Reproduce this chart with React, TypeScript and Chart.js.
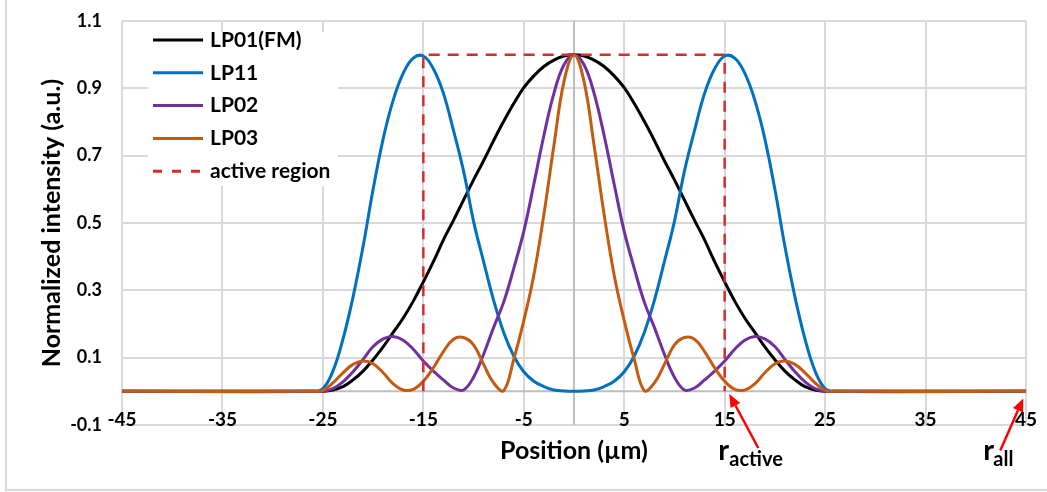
import React, { useEffect, useRef } from 'react';
import { Chart, registerables } from 'chart.js';

Chart.register(...registerables);

// ---------- data ----------
const positions = [
  -45, -26, -25, -24, -23, -22, -21, -20, -19, -18, -17, -16, -15, -14, -13, -12, -11, -10, -9, -8, -7, -6, -5, -4, -3, -2, -1,
  0,
  1, 2, 3, 4, 5, 6, 7, 8, 9, 10, 11, 12, 13, 14, 15, 16, 17, 18, 19, 20, 21, 22, 23, 24, 25, 26, 45,
];

const lp01 = [
  0, 0, 0, 0.004, 0.014, 0.034, 0.06, 0.094, 0.132, 0.175, 0.218, 0.268, 0.325, 0.385, 0.45, 0.508, 0.568, 0.628, 0.685, 0.745, 0.802, 0.855, 0.902, 0.937, 0.965, 0.984, 0.996,
  1,
  0.996, 0.984, 0.965, 0.937, 0.902, 0.855, 0.802, 0.745, 0.685, 0.628, 0.568, 0.508, 0.45, 0.385, 0.325, 0.268, 0.218, 0.175, 0.132, 0.094, 0.06, 0.034, 0.014, 0.004, 0, 0, 0,
];

const lp11 = [
  0, 0, 0.008, 0.06, 0.155, 0.28, 0.43, 0.6, 0.75, 0.865, 0.945, 0.99, 0.996, 0.958, 0.885, 0.775, 0.655, 0.505, 0.385, 0.27, 0.175, 0.105, 0.058, 0.03, 0.014, 0.004, 0.001,
  0,
  0.001, 0.004, 0.014, 0.03, 0.058, 0.105, 0.175, 0.27, 0.385, 0.505, 0.655, 0.775, 0.885, 0.958, 0.996, 0.99, 0.945, 0.865, 0.75, 0.6, 0.43, 0.28, 0.155, 0.06, 0.008, 0, 0,
];

const lp02 = [
  0, 0, 0, 0.008, 0.028, 0.058, 0.095, 0.133, 0.156, 0.163, 0.152, 0.125, 0.09, 0.06, 0.034, 0.01, 0.004, 0.042, 0.11, 0.19, 0.265, 0.365, 0.475, 0.615, 0.76, 0.885, 0.97,
  1,
  0.97, 0.885, 0.76, 0.615, 0.475, 0.365, 0.265, 0.19, 0.11, 0.042, 0.004, 0.01, 0.034, 0.06, 0.09, 0.125, 0.152, 0.163, 0.156, 0.133, 0.095, 0.058, 0.028, 0.008, 0, 0, 0,
];

const lp03 = [
  0, 0, 0.003, 0.025, 0.055, 0.08, 0.09, 0.082, 0.055, 0.022, 0.004, 0.006, 0.03, 0.07, 0.118, 0.155, 0.16, 0.138, 0.08, 0.025, 0.002, 0.095, 0.21, 0.345, 0.525, 0.73, 0.92,
  1,
  0.92, 0.73, 0.525, 0.345, 0.21, 0.095, 0.002, 0.025, 0.08, 0.138, 0.16, 0.155, 0.118, 0.07, 0.03, 0.006, 0.004, 0.022, 0.055, 0.082, 0.09, 0.08, 0.055, 0.025, 0.003, 0, 0,
];

const activeX = [-15, -15, 15, 15];
const activeY = [0, 1, 1, 0];

const xTickValues = [-45, -35, -25, -15, -5, 5, 15, 25, 35, 45];
const yTickValues = [-0.1, 0.1, 0.3, 0.5, 0.7, 0.9, 1.1];

const seriesLabels = ['LP01(FM)', 'LP11', 'LP02', 'LP03', 'active region'];

const annotationMain = ['r', 'r'];
const annotationSub = ['active', 'all'];
const annotationTipX = [15.46, 44.73];
const annotationTipY = [-0.008, -0.021];

// ---------- styles ----------
const FONT = 'Lato, "Open Sans", sans-serif';
const COLORS = ['#000000', '#0070c0', '#7030a0', '#c55a11', '#d62b2b'];
const ANNOT_STYLE = [
  { tail: [29, 54], main: [-11, 66], sub: [0, 72] },
  { tail: [-23, 52], main: [-40, 62], sub: [-30, 68] },
];

function drawArrow(ctx: CanvasRenderingContext2D, x1: number, y1: number, x2: number, y2: number) {
  const ang = Math.atan2(y2 - y1, x2 - x1);
  const headLen = 13;
  const headHalf = 5.5;
  const bx = x2 - headLen * Math.cos(ang);
  const by = y2 - headLen * Math.sin(ang);
  ctx.beginPath();
  ctx.moveTo(x1, y1);
  ctx.lineTo(bx, by);
  ctx.stroke();
  ctx.beginPath();
  ctx.moveTo(x2, y2);
  ctx.lineTo(bx + headHalf * Math.sin(ang), by - headHalf * Math.cos(ang));
  ctx.lineTo(bx - headHalf * Math.sin(ang), by + headHalf * Math.cos(ang));
  ctx.closePath();
  ctx.fill();
}

const overlayPlugin = {
  id: 'overlay',
  beforeDatasetsDraw(chart: any) {
    const { ctx, chartArea: a, scales } = chart;
    const x0 = scales.x.getPixelForValue(0);
    const y0 = scales.y.getPixelForValue(0);
    ctx.save();
    ctx.strokeStyle = '#bfbfbf';
    ctx.lineWidth = 2;
    ctx.beginPath();
    ctx.moveTo(a.left, y0);
    ctx.lineTo(a.right, y0);
    ctx.moveTo(x0, a.top);
    ctx.lineTo(x0, a.bottom);
    ctx.stroke();
    ctx.restore();
  },
  afterDraw(chart: any) {
    const { ctx, chartArea: a, scales } = chart;
    ctx.save();
    // x tick labels, sitting just under the y = 0 axis line
    const y0 = scales.y.getPixelForValue(0);
    ctx.fillStyle = '#000';
    ctx.font = `bold 19px ${FONT}`;
    ctx.textAlign = 'center';
    ctx.textBaseline = 'middle';
    scales.x.ticks.forEach((t: any) => {
      const lbl = t.label != null ? String(t.label) : String(t.value);
      ctx.fillText(lbl, scales.x.getPixelForValue(t.value), y0 + 29);
    });
    // legend
    ctx.fillStyle = '#ffffff';
    ctx.fillRect(a.left + 26, a.top + 11, 190, 154);
    chart.data.datasets.forEach((ds: any, i: number) => {
      const yy = a.top + 19 + i * 32.8;
      ctx.strokeStyle = ds.borderColor;
      ctx.lineWidth = 3;
      ctx.setLineDash(ds.borderDash ? [9, 10] : []);
      ctx.beginPath();
      ctx.moveTo(a.left + 31, yy);
      ctx.lineTo(a.left + 81, yy);
      ctx.stroke();
      ctx.setLineDash([]);
      ctx.fillStyle = '#000';
      ctx.font = `bold 21px ${FONT}`;
      ctx.textBaseline = 'middle';
      ctx.textAlign = 'left';
      ctx.fillText(ds.label, a.left + 88, yy);
    });
    // annotations
    annotationMain.forEach((m, i) => {
      const st = ANNOT_STYLE[i];
      const tx = scales.x.getPixelForValue(annotationTipX[i]);
      const ty = scales.y.getPixelForValue(annotationTipY[i]);
      ctx.strokeStyle = '#ff0000';
      ctx.fillStyle = '#ff0000';
      ctx.lineWidth = 2.5;
      drawArrow(ctx, tx + st.tail[0], ty + st.tail[1], tx, ty);
      ctx.fillStyle = '#000';
      ctx.textBaseline = 'alphabetic';
      ctx.textAlign = 'left';
      ctx.font = `bold 29px ${FONT}`;
      ctx.fillText(m, tx + st.main[0], ty + st.main[1]);
      ctx.font = `bold 20px ${FONT}`;
      ctx.fillText(annotationSub[i], tx + st.sub[0], ty + st.sub[1]);
    });
    // outer frame
    ctx.strokeStyle = '#d9d9d9';
    ctx.lineWidth = 2;
    ctx.beginPath();
    ctx.moveTo(6, 0);
    ctx.lineTo(6, 490);
    ctx.lineTo(1047, 490);
    ctx.stroke();
    ctx.restore();
  },
};

export default function App() {
  const ref = useRef<HTMLCanvasElement | null>(null);
  useEffect(() => {
    if (!ref.current) return;
    const series = [lp01, lp11, lp02, lp03];
    const datasets: any[] = series.map((vals, i) => ({
      label: seriesLabels[i],
      data: positions.map((x, j) => ({ x, y: vals[j] })),
      borderColor: COLORS[i],
      backgroundColor: COLORS[i],
      borderWidth: 3,
      pointRadius: 0,
      tension: 0.4,
      fill: false,
      order: 5 - i,
    }));
    datasets.push({
      label: seriesLabels[4],
      data: activeX.map((x, j) => ({ x, y: activeY[j] })),
      borderColor: COLORS[4],
      backgroundColor: COLORS[4],
      borderWidth: 2.5,
      borderDash: [11, 8],
      pointRadius: 0,
      tension: 0,
      fill: false,
      order: 0,
    });
    const chart = new Chart(ref.current, {
      type: 'line',
      data: { datasets },
      plugins: [overlayPlugin],
      options: {
        responsive: false,
        animation: false,
        events: [],
        layout: { padding: { left: 37, right: 21, top: 21, bottom: 26 } },
        plugins: { legend: { display: false }, tooltip: { enabled: false } },
        scales: {
          x: {
            type: 'linear',
            min: -45,
            max: 45,
            afterBuildTicks: (s: any) => {
              s.ticks = xTickValues.map((v) => ({ value: v }));
            },
            afterFit: (s: any) => {
              s.height = 41;
            },
            grid: { color: '#d9d9d9', lineWidth: 2, drawTicks: false },
            border: { display: false },
            ticks: {
              display: false,
              autoSkip: false,
              maxRotation: 0,
              callback: (v: any) => String(v),
            },
            title: {
              display: true,
              text: 'Position (µm)',
              color: '#000',
              font: { family: FONT, size: 25, weight: 'bold', lineHeight: 1.2 },
              padding: 0,
            },
          },
          y: {
            type: 'linear',
            min: -0.1,
            max: 1.1,
            afterBuildTicks: (s: any) => {
              s.ticks = yTickValues.map((v) => ({ value: v }));
            },
            afterFit: (s: any) => {
              s.width = 85;
            },
            grid: { color: '#d9d9d9', lineWidth: 2, drawTicks: true, tickLength: 20, tickColor: 'rgba(0,0,0,0)' },
            border: { display: false },
            ticks: {
              padding: 0,
              color: '#000',
              font: { family: FONT, size: 18, weight: 'bold' },
              callback: (v: any) => Number(v).toFixed(1),
            },
            title: {
              display: true,
              text: 'Normalized intensity (a.u.)',
              color: '#000',
              font: { family: FONT, size: 25, weight: 'bold', lineHeight: 1.2 },
              padding: 0,
            },
          },
        },
      } as any,
    });
    return () => chart.destroy();
  }, []);
  return (
    <div style={{ position: 'fixed', left: 0, top: 0, width: 1047, height: 492, background: '#fff', overflow: 'hidden' }}>
      <canvas ref={ref} width={1047} height={492} style={{ display: 'block' }} />
    </div>
  );
}
